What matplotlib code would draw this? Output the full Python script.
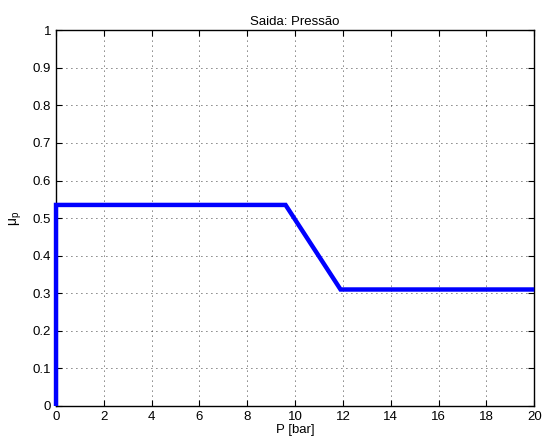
import numpy as np
import matplotlib
matplotlib.use("Agg")
import matplotlib.pyplot as plt

plt.rcParams["font.family"] = ["Liberation Sans", "DejaVu Sans"]

# pontos do conjunto de saída (pressão)
P = [0.0, 0.0, 9.6, 11.9, 20.0]
mu = [0.0, 0.535, 0.535, 0.31, 0.31]

fig = plt.figure(figsize=(5.44, 4.44), dpi=100)
ax = fig.add_axes([0.103, 0.0856, 0.879, 0.8464])

ax.plot(P, mu, color="blue", lw=3.2, solid_joinstyle="miter",
        solid_capstyle="butt", clip_on=False, zorder=3)

ax.set_xlim(0, 20)
ax.set_ylim(0, 1)
ax.set_xticks(np.arange(0, 21, 2))
ax.set_yticks(np.arange(0, 1.01, 0.1))
ax.set_yticklabels(["0", "0.1", "0.2", "0.3", "0.4", "0.5", "0.6", "0.7", "0.8", "0.9", "1"])
ax.grid(True, color="black", ls=(0, (1, 5)), lw=0.6)
ax.tick_params(direction="in", labelsize=9.5, length=4, top=True, right=True)
for s in ax.spines.values():
    s.set_linewidth(1.0)
    s.set_zorder(2.5)

ax.set_xlabel("P [bar]", fontsize=9.5, labelpad=1)
ax.set_ylabel(r"$\mathregular{\mu_p}$", fontsize=10, labelpad=6)
ax.set_title("Saida: Pressão", fontsize=9.5, pad=4)

fig.savefig("out.png", dpi=100)
